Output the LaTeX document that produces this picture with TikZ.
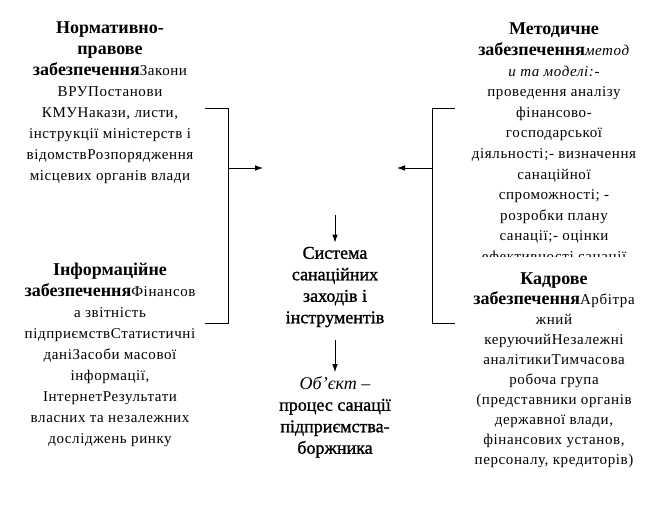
\documentclass[tikz,border=0pt]{standalone}
\usepackage{fontspec}
\setmainfont{Liberation Serif}
\newfontfamily\wideserif[LetterSpace=4]{Liberation Serif}
\newfontfamily\heavyserif[FakeBold=1.2]{Liberation Serif}
\usepackage{tikz}
\usetikzlibrary{positioning,arrows.meta}
\tikzset{>={Latex[length=8pt,width=5.5pt]}}
\tikzset{
  txt/.style={font=\wideserif\fontsize{15}{21}\selectfont, align=center, inner sep=0pt},
  bigtxt/.style={font=\heavyserif\fontsize{18}{21.5}\selectfont, align=center, inner sep=0pt},
  link/.style={line width=0.8pt}
}
\newcommand{\hd}[1]{{\normalfont\fontsize{18}{21}\selectfont\bfseries #1}}

\begin{document}
\begin{tikzpicture}[x=1pt,y=-1pt]
  \useasboundingbox (0,0) rectangle (661,505);
  % left column
  \node[txt] (norm) at (110,103) {\hd{Нормативно-}\\ \hd{правове}\\ \hd{забезпечення}Закони\\ ВРУПостанови\\ КМУНакази, листи,\\ інструкції міністерств і\\ відомствРозпорядження\\ місцевих органів влади};%
  \node[txt] (info) at (110,355) {\hd{Інформаційне}\\ \hd{забезпечення}Фінансов\\ а звітність\\ підприємствСтатистичні\\ даніЗасоби масової\\ інформації,\\ ІнтернетРезультати\\ власних та незалежних\\ досліджень ринку};%
  % right column
  \begin{scope}
    \clip (420,0) rectangle (661,256);
    \node[txt, font=\wideserif\fontsize{15}{20.6}\selectfont] (metod) at (554,144) {\hd{Методичне}\\ \hd{забезпечення}\textit{метод}\\ \textit{и та моделі:}-\\ проведення аналізу\\ фінансово-\\ господарської\\ діяльності;- визначення\\ санаційної\\ спроможності; -\\ розробки плану\\ санації;- оцінки\\ ефективності санації};%
  \end{scope}
  \node[txt, font=\wideserif\fontsize{15}{20}\selectfont] (kadr) at (554,370) {\hd{Кадрове}\\ \hd{забезпечення}Арбітра\\ жний\\ керуючийНезалежні\\ аналітикиТимчасова\\ робоча група\\ (представники органів\\ державної влади,\\ фінансових установ,\\ персоналу, кредиторів)};%
  % centre
  \node[bigtxt] (sys) at (335,287) {Система\\ санаційних\\ заходів і\\ інструментів};%
  \node[bigtxt] (obj) at (335,417) {{\normalfont\itshape Об’єкт –}\\ процес санації\\ підприємства-\\ боржника};%
  % brackets
  \coordinate (ltop) at (205,108); \coordinate (lbot) at (205,323);%
  \coordinate (lmid) at (228,168); \coordinate (lin) at (263,168);%
  \coordinate (rtop) at (455,108); \coordinate (rbot) at (455,323);%
  \coordinate (rmid) at (432,168); \coordinate (rin) at (397,168);%
  \coordinate (sysin) at (335,215);%
  \draw[link] (ltop) -- (228,108) -- (228,323) -- (lbot);%
  \draw[link] (rtop) -- (432,108) -- (432,323) -- (rbot);%
  \draw[link,->] (lmid) -- (lin);%
  \draw[link,->] (rmid) -- (rin);%
  \draw[link,->] (sysin) -- ([yshift=4pt]sys.north);%
  \draw[link,->] ([yshift=-13pt]sys.south) -- ([yshift=4pt]obj.north);%
\end{tikzpicture}
\end{document}
